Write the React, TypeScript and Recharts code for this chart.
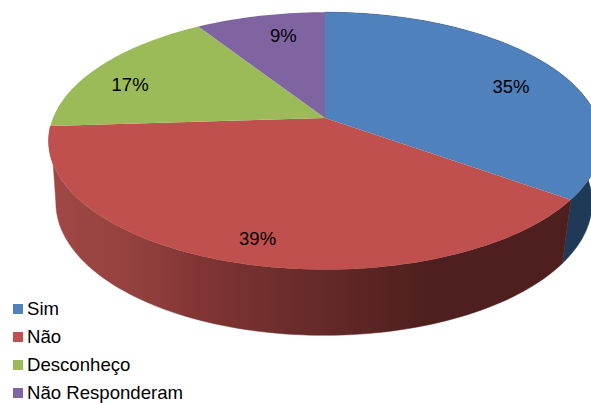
import { Legend, Pie, PieChart } from "recharts";

const categories = ["Sim", "Não", "Desconheço", "Não Responderam"];
const shares = [35, 39, 17, 9];
const topColors = ["#4f81bd", "#c0504d", "#9bbb59", "#8064a2"];

// side wall shading, left to right across the pie
const wallStops: [number, string][][] = [
  [[0, "#1f3a56"], [1, "#1f3a56"]],
  [[0, "#a04845"], [0.1, "#994441"], [0.19, "#8f3e3c"], [0.28, "#803533"], [0.5, "#652a29"], [0.7, "#4e1f1e"], [1, "#4e1f1e"]],
  [[0, "#6f8a40"], [1, "#6f8a40"]],
  [[0, "#5d4976"], [1, "#5d4976"]],
];

// tilt of the disc: perspective strength and vertical squash
const PERSPECTIVE = 0.178;
const SQUASH = 0.458;
const RADIUS = 272;

// the underside of the disc sits lower and slightly narrower
const FLOOR_SHIFT = -1;
const FLOOR_DROP = 61;
const FLOOR_SCALE = 0.97;
const FLOOR_SQUASH = 0.487;
// stop the floor edge at its leftmost point so the wall meets the top in a clean tangent
const FLOOR_TRIM = 6.7;

const data = categories.map((name, i) => ({ name, value: shares[i], fill: topColors[i] }));

function project(cx: number, cy: number, r: number, deg: number, squash = SQUASH) {
  const rad = (deg * Math.PI) / 180;
  const u = Math.cos(rad);
  const s = -Math.sin(rad);
  const d = 1 - PERSPECTIVE * s;
  return [cx + (r * u) / d, cy + (r * squash * s) / d];
}

function rim(cx: number, cy: number, r: number, from: number, to: number, squash = SQUASH) {
  const steps = Math.max(8, Math.ceil(Math.abs(to - from) / 1.5));
  const pts: number[][] = [];
  for (let i = 0; i <= steps; i++) {
    pts.push(project(cx, cy, r, from + ((to - from) * i) / steps, squash));
  }
  return pts;
}

const toPath = (pts: number[][]) =>
  "M" + pts.map((p) => `${p[0].toFixed(2)},${p[1].toFixed(2)}`).join("L") + "Z";

function TopSlice(props: any) {
  const { cx, cy, outerRadius, startAngle, endAngle, fill } = props;
  const edge = rim(cx, cy, outerRadius, startAngle, endAngle);
  return <path d={toPath([[cx, cy], ...edge])} fill={fill} stroke="none" />;
}

function WallSlice(props: any) {
  const { cx, cy, outerRadius, startAngle, endAngle, index } = props;
  const upper = rim(cx, cy, outerRadius, startAngle, endAngle);
  // slices that stay on the far side of the disc show no wall
  if (!upper.some((p) => p[1] > cy + 20)) return <g />;
  const trim = Math.cos((endAngle * Math.PI) / 180) < 0 ? FLOOR_TRIM : 0;
  const lower = rim(
    cx + FLOOR_SHIFT,
    cy + FLOOR_DROP,
    outerRadius * FLOOR_SCALE,
    endAngle + trim,
    startAngle,
    FLOOR_SQUASH,
  );
  const id = `wall-${index}`;
  return (
    <g>
      <defs>
        <linearGradient id={id} gradientUnits="userSpaceOnUse" x1={48} y1={0} x2={591} y2={0}>
          {wallStops[index].map(([offset, color]) => (
            <stop key={offset} offset={offset} stopColor={color} />
          ))}
        </linearGradient>
      </defs>
      <path d={toPath([...upper, ...lower])} fill={`url(#${id})`} stroke={`url(#${id})`} strokeWidth={0.5} />
    </g>
  );
}

// label offsets from the projected slice middle
const labelNudge = [
  [11, 9],
  [4, 8],
  [-20, 7],
  [9, -3],
];

function renderPercent(props: any) {
  const { cx, cy, outerRadius, midAngle, index, value } = props;
  const [x, y] = project(cx, cy, outerRadius * 0.78, midAngle);
  return (
    <text
      x={x + labelNudge[index][0]}
      y={y + labelNudge[index][1]}
      textAnchor="middle"
      dominantBaseline="central"
      fontFamily="Liberation Sans, Arial, sans-serif"
      fontSize={18.5}
      fill="#000"
    >
      {value}%
    </text>
  );
}

function KeyList({ payload }: any) {
  const items = (payload ?? []).filter((item: any) => item.type !== "none");
  return (
    <div style={{ fontFamily: "Liberation Sans, Arial, sans-serif", fontSize: 18.6, color: "#000" }}>
      {items.map((item: any) => (
        <div key={item.value} style={{ display: "flex", alignItems: "center", height: 28 }}>
          <span style={{ width: 10, height: 10, background: item.color, marginRight: 4 }} />
          {item.value}
        </div>
      ))}
    </div>
  );
}

export default function App() {
  return (
    <div style={{ position: "absolute", left: 0, top: 0, width: 591, height: 403, background: "#fff" }}>
      <PieChart width={591} height={403} margin={{ top: 0, right: 0, bottom: 0, left: 0 }}>
        <Pie
          data={data}
          dataKey="value"
          nameKey="name"
          cx={325}
          cy={118}
          outerRadius={RADIUS}
          startAngle={90}
          endAngle={-270}
          shape={WallSlice}
          legendType="none"
          isAnimationActive={false}
        />
        <Pie
          data={data}
          dataKey="value"
          nameKey="name"
          cx={325}
          cy={118}
          outerRadius={RADIUS}
          startAngle={90}
          endAngle={-270}
          shape={TopSlice}
          label={renderPercent}
          labelLine={false}
          legendType="square"
          isAnimationActive={false}
        />
        <Legend
          layout="horizontal"
          verticalAlign="bottom"
          itemSorter={null}
          content={KeyList}
          wrapperStyle={{ left: 13, bottom: -4, width: 220 }}
        />
      </PieChart>
    </div>
  );
}
